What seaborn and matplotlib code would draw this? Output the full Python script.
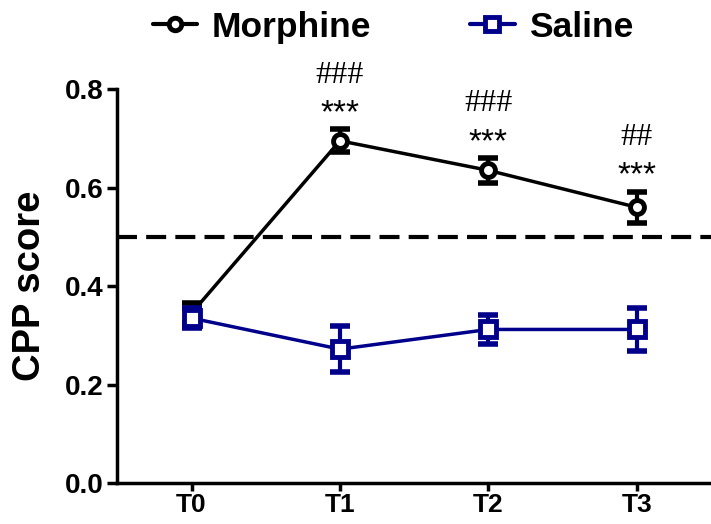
import matplotlib
matplotlib.use("Agg")
import matplotlib.pyplot as plt
import seaborn as sns
import pandas as pd
from matplotlib.lines import Line2D

# Data
timepoints = ["T0", "T1", "T2", "T3"]
morphine_mean = [0.345, 0.695, 0.635, 0.560]
morphine_sem = [0.020, 0.023, 0.025, 0.031]
saline_mean = [0.335, 0.272, 0.312, 0.312]
saline_sem = [0.020, 0.047, 0.030, 0.044]
star_labels = ["", "***", "***", "***"]
hash_labels = ["", "###", "###", "##"]
chance_level = 0.5

navy = "#00008B"

df = pd.DataFrame({
    "time": timepoints * 2,
    "score": morphine_mean + saline_mean,
    "group": ["Morphine"] * 4 + ["Saline"] * 4,
})

sns.set_style("ticks")
plt.rcParams["font.family"] = ["Liberation Sans", "DejaVu Sans"]
plt.rcParams["text.color"] = "black"
plt.rcParams["axes.labelcolor"] = "black"

fig = plt.figure(figsize=(7.11, 5.24), dpi=100)
ax = fig.add_axes([0.165, 0.078, 0.835, 0.752])

# chance line
ax.axhline(chance_level, color="black", lw=3, ls=(0, (4.8, 2.2)), zorder=1, clip_on=False)

styles = {
    "Morphine": dict(color="black", marker="o", ms=10),
    "Saline": dict(color=navy, marker="s", ms=11),
}
means = {"Morphine": morphine_mean, "Saline": saline_mean}
sems = {"Morphine": morphine_sem, "Saline": saline_sem}

for i, grp in enumerate(["Morphine", "Saline"]):
    st = styles[grp]
    sub = df[df["group"] == grp]
    ax.errorbar(range(len(timepoints)), means[grp], yerr=sems[grp], fmt="none",
                ecolor=st["color"], elinewidth=3, capsize=7.5, capthick=4,
                zorder=3 + i * 2)
    sns.lineplot(data=sub, x="time", y="score", ax=ax, color=st["color"],
                 marker=st["marker"], markersize=st["ms"], markerfacecolor="white",
                 markeredgecolor=st["color"], markeredgewidth=3.5, lw=2.5,
                 zorder=4 + i * 2, legend=False)

# significance marks
for i in range(len(timepoints)):
    top = morphine_mean[i] + morphine_sem[i]
    if star_labels[i]:
        ax.text(i, top + 0.032, star_labels[i], ha="center", va="center",
                fontsize=24, color="black")
    if hash_labels[i]:
        ax.text(i, top + 0.11, hash_labels[i], ha="center", va="center",
                fontsize=23, color="black", family=["Liberation Serif", "DejaVu Serif"])

ax.set_xlim(-0.5, 3.5)
ax.set_ylim(0, 0.8)
ax.set_yticks([0.0, 0.2, 0.4, 0.6, 0.8])
ax.set_yticklabels(["0.0", "0.2", "0.4", "0.6", "0.8"])
ax.set_xlabel("")
ax.set_ylabel("CPP score", fontsize=27.5, fontweight="bold", labelpad=12)

for lab in ax.get_xticklabels() + ax.get_yticklabels():
    lab.set_fontweight("bold")
    lab.set_fontsize(20)
for lab in ax.get_xticklabels():
    lab.set_fontsize(19)
ax.tick_params(axis="both", direction="out", length=7, width=2.5, colors="black", pad=3)
ax.tick_params(axis="x", length=6, pad=1)
sns.despine(ax=ax)
for side in ["left", "bottom"]:
    ax.spines[side].set_linewidth(2.5)
    ax.spines[side].set_color("black")

handles = [
    Line2D([], [], color="black", marker="o", markersize=9, markerfacecolor="white",
           markeredgewidth=3.5, lw=3),
    Line2D([], [], color=navy, marker="s", markersize=10, markerfacecolor="white",
           markeredgewidth=3.5, lw=3),
]
fig.legend(handles, ["Morphine", "Saline"], loc="center", bbox_to_anchor=(0.553, 0.948),
           ncol=2, frameon=False, handlelength=1.25, handletextpad=0.4, columnspacing=2.8,
           prop={"weight": "bold", "size": 25.5})

fig.savefig("out.png", dpi=100)
